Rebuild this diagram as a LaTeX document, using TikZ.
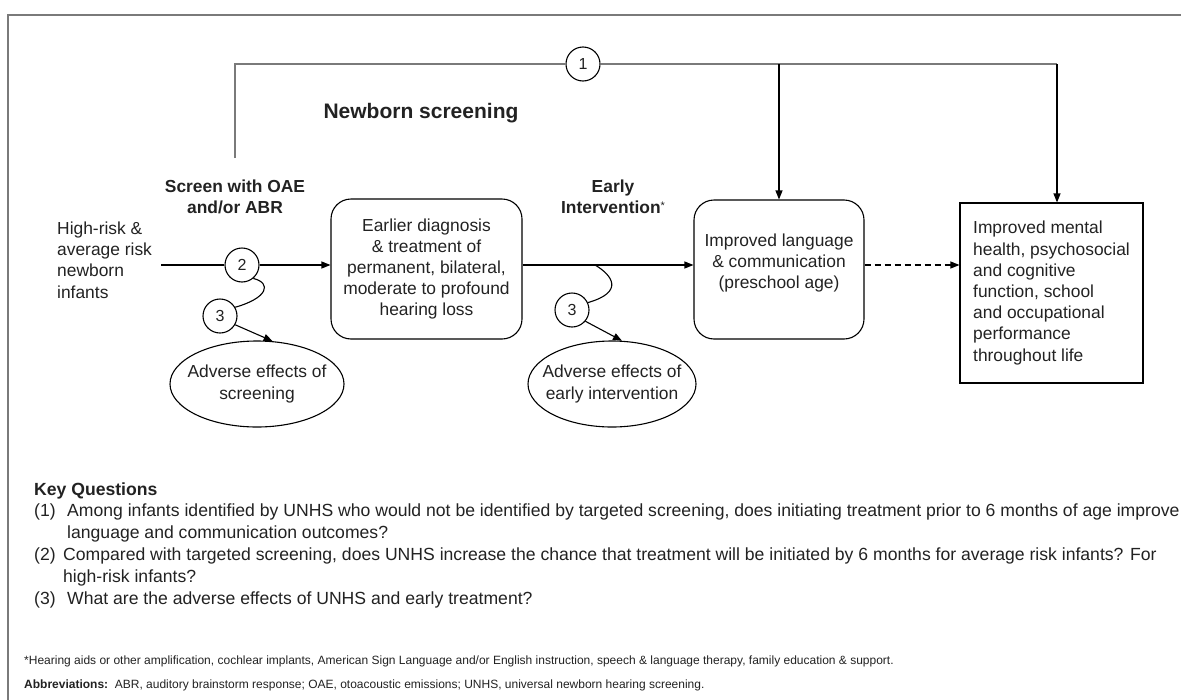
\documentclass[tikz,border=0pt]{standalone}
\usepackage{fontspec}
\setmainfont{Liberation Sans}
\usepackage{tikz}
\definecolor{frgray}{HTML}{7a7a7a}
\definecolor{ink}{HTML}{222222}
\usetikzlibrary{shapes.geometric, arrows.meta, positioning, calc}

\begin{document}
\begin{tikzpicture}[x=1pt, y=-1pt,
  every node/.style={text=ink},
  txt/.style={font=\fontsize{17.4}{21.2}\selectfont, align=center, inner sep=0pt},
  hd/.style={txt, font=\fontsize{17.4}{21.2}\selectfont\bfseries},
  kq/.style={circle, draw, fill=white, line width=1.1pt, minimum size=34pt, inner sep=0pt, font=\fontsize{16}{16}\selectfont},
  rbox/.style={draw, rounded corners=20pt, line width=1.1pt},
  adv/.style={draw, ellipse, line width=1.1pt, minimum height=86pt, inner sep=0pt},
  ln/.style={line width=1.1pt},
  arr/.style={ln, -{Triangle[length=9pt,width=7pt]}},
  kqt/.style={font=\fontsize{17.6}{22}\selectfont, inner sep=0pt, anchor=base west},
  fn/.style={font=\fontsize{12}{14}\selectfont, inner sep=0pt, anchor=base west}]
\useasboundingbox (0,0) rectangle (1181,699);
\clip (0,0) rectangle (1181,699);

% Frame
\draw[frgray, line width=1.5pt] (8,720) -- (8,15) -- (1200,15);

% Boxes
\node[rbox, txt, minimum width=191pt, minimum height=140pt] (diag) at (426.5,269)
  {Earlier diagnosis\\\& treatment of\\permanent, bilateral,\\moderate to profound\\hearing loss};
\node[rbox, minimum width=170pt, minimum height=139pt] (lang) at (779,269.5) {};
\node[txt] (langtxt) at (779,263) {Improved language\\\& communication\\(preschool age)};
\node[draw, ln, txt, align=left, minimum width=183pt, minimum height=180pt] (life) at (1051.5,293)
  {Improved mental\\health, psychosocial\\and cognitive\\function, school\\and occupational\\performance\\throughout life};

% Adverse effects
\node[adv, minimum width=174pt] (adv1) at (257,384) {};
\node[txt] (adv1txt) at (adv1) {Adverse effects of\\screening};
\node[adv, minimum width=168pt] (adv2) at (612,384) {};
\node[txt] (adv2txt) at (adv2) {Adverse effects of\\early intervention};

% Labels
\node[txt, align=left, anchor=west] (infants) at (57,260) {High-risk \&\\average risk\\newborn\\infants};
\node[hd] (screen) at (235,197) {Screen with OAE\\and/or ABR};
\node[hd] (early) at (613,197) {Early\\Intervention\raisebox{4pt}{\mdseries\fontsize{11}{11}\selectfont*}};
\node[font=\fontsize{21}{25}\selectfont\bfseries, inner sep=0pt] (title) at (421,113) {Newborn screening};

% Key question circles
\node[kq] (q1) at (583,64) {1};
\node[kq] (q2) at (242,265) {2};
\node[kq] (q3a) at (220,316) {3};
\node[kq] (q3b) at (572,310) {3};

% Arrows
\coordinate (src) at (161,265);
\coordinate (kink) at (595,265);
\coordinate (kqstart) at (235,158);
\coordinate (tr) at (1057,64);
\draw[ln] (src) -- (q2);
\draw[arr] (q2) -- (q2 -| diag.west);
\draw[arr] (diag.east |- q2) -- (lang.west |- q2);
\draw[arr, dash pattern=on 6pt off 4pt] (lang.east |- q2) -- (life.west |- q2);
\draw[ln] (q2.-50) .. controls (272,283) and (268,298) .. (q3a.30);
\draw[arr] (q3a.-30) -- (adv1.70);
\draw[ln] (kink) .. controls (612,275) and (625,292) .. (q3b.25);
\draw[arr] (q3b.-40) -- (adv2.77);
\draw[ln, frgray] (kqstart) |- (q1);
\draw[ln, frgray] (q1) -- (tr);
\draw[arr] (q1 -| lang.north) -- (lang.north);
\draw[arr] (tr) -- (tr |- life.north);

% Key Questions
\node[kqt] (kqhead) at (34,495) {\bfseries Key Questions};
\node[kqt] (kq1n) at (34,516) {(1)};
\node[kqt] (kq1) at (67,516) {Among infants identified by UNHS who would not be identified by targeted screening, does initiating treatment prior to 6 months of age improve};
\node[kqt] (kq1b) at (67,538) {language and communication outcomes?};
\node[kqt] (kq2n) at (34,560) {(2)};
\node[kqt] (kq2) at (63,560) {Compared with targeted screening, does UNHS increase the chance that treatment will be initiated by 6 months for average risk infants? For};
\node[kqt] (kq2b) at (63,582) {high-risk infants?};
\node[kqt] (kq3n) at (34,604) {(3)};
\node[kqt] (kq3) at (67,604) {What are the adverse effects of UNHS and early treatment?};

% Footnotes
\node[fn] (fnote) at (24,664) {*Hearing aids or other amplification, cochlear implants, American Sign Language and/or English instruction, speech \& language therapy, family education \& support.};
\node[fn] (abbr) at (24,688) {\textbf{Abbreviations:}\ \ ABR, auditory brainstorm response; OAE, otoacoustic emissions; UNHS, universal newborn hearing screening.};
\end{tikzpicture}
\end{document}
